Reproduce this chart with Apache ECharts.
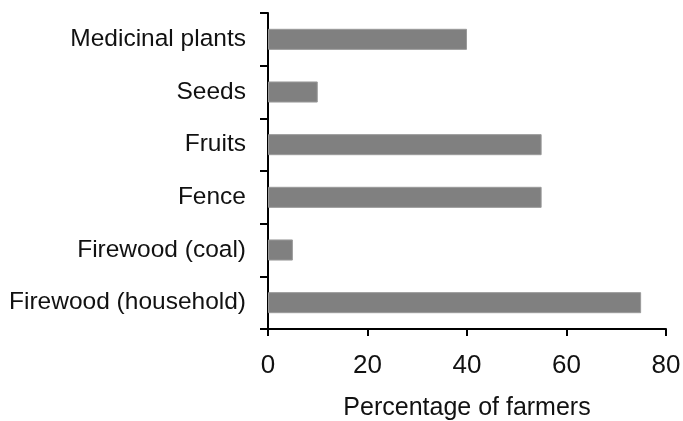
<!DOCTYPE html>
<html><head><meta charset="utf-8">
<script src="https://cdn.jsdelivr.net/npm/echarts@6/dist/echarts.min.js"></script>
<style>html,body{margin:0;padding:0;background:#fff}#c{width:683px;height:421px}</style>
</head><body><div id="c"></div>
<script>
const categories = ["Medicinal plants","Seeds","Fruits","Fence","Firewood (coal)","Firewood (household)"];
const values = [40, 10, 55, 55, 5, 75];
const xTicks = [0, 20, 40, 60, 80];
const xTitle = "Percentage of farmers";

const chart = echarts.init(document.getElementById('c'), null, {renderer:'canvas'});
chart.setOption({
  animation:false,
  backgroundColor:'#ffffff',
  grid:{left:268, right:17, top:13, bottom:92, containLabel:false, outerBoundsMode:'none'},
  xAxis:{
    type:'value', min:xTicks[0], max:xTicks[xTicks.length-1], interval:20,
    name:xTitle, nameLocation:'middle', nameGap:67,
    nameTextStyle:{fontFamily:'Liberation Sans, Arial', fontSize:25, color:'#111'},
    axisLine:{show:true, lineStyle:{color:'#000', width:2}},
    axisTick:{show:true, inside:false, length:7, lineStyle:{color:'#000', width:2}},
    axisLabel:{fontFamily:'Liberation Sans, Arial', fontSize:26, color:'#111', margin:24},
    splitLine:{show:false}
  },
  yAxis:{
    type:'category', data:categories, inverse:true,
    axisLine:{show:true, lineStyle:{color:'#000', width:2}},
    axisTick:{show:true, inside:false, length:8, lineStyle:{color:'#000', width:2}},
    axisLabel:{fontFamily:'Liberation Sans, Arial', fontSize:24.5, color:'#111', margin:22},
    splitLine:{show:false}
  },
  series:[{
    type:'bar', data:values, barCategoryGap:'60%',
    itemStyle:{color:'#808080', borderColor:'#9a9a9a', borderWidth:1}
  }]
});
</script></body></html>
